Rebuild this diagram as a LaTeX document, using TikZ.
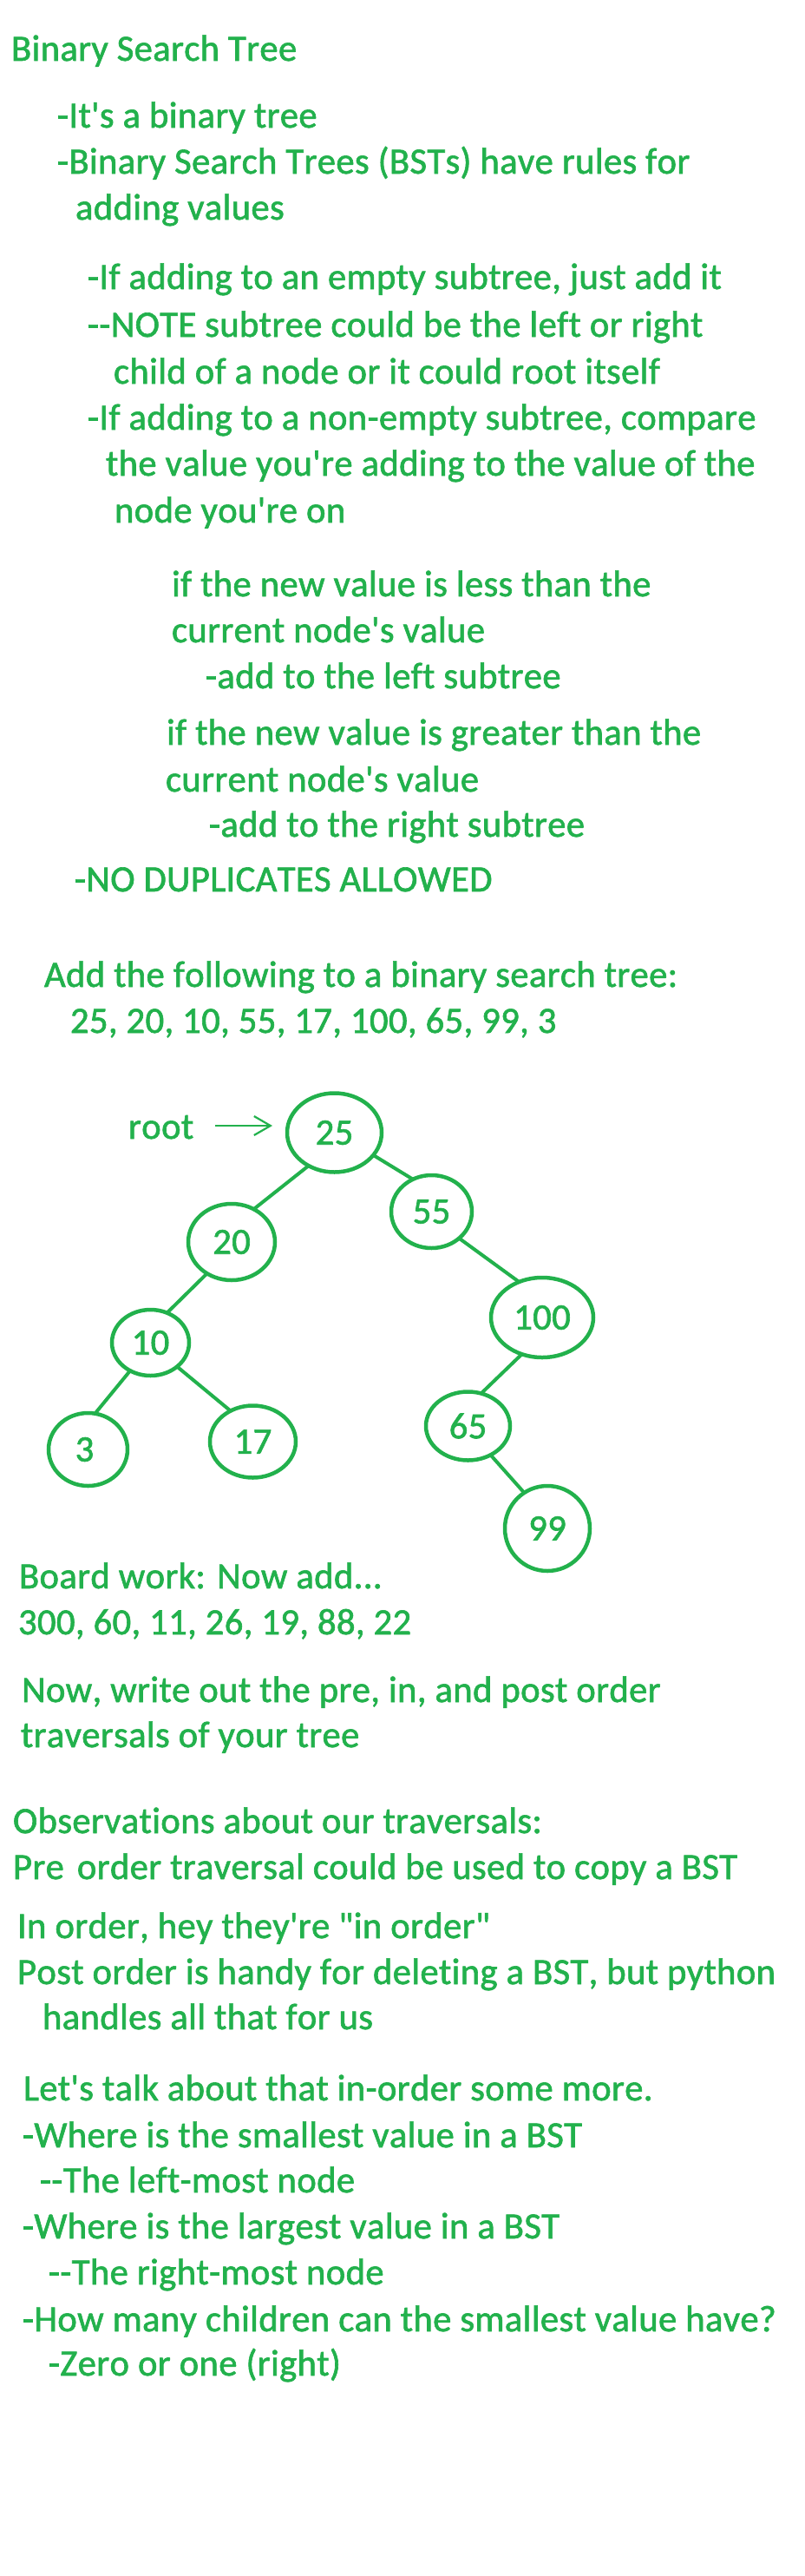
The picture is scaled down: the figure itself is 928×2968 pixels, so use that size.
\documentclass[tikz,border=0pt]{standalone}
\usepackage{fontspec}
\setmainfont{Carlito}[Ligatures={TeXOff,NoCommon},Kerning=Off,LetterSpace=0.8,FakeBold=1.5]
\usetikzlibrary{shapes.geometric,arrows.meta}
\definecolor{bstgreen}{HTML}{22B14C}
\newcommand\bstfnt{\fontsize{42.67}{52}\selectfont}
\tikzset{
  txt/.style={anchor=base west, inner sep=0pt, outer sep=0pt, text=bstgreen, font=\bstfnt},
  bnode/.style={ellipse, draw=bstgreen, line width=4.5pt, inner sep=0pt, outer sep=0pt, text=bstgreen, font=\bstfnt},
  bedge/.style={draw=bstgreen, line width=4pt},
  rootarrow/.style={draw=bstgreen, line width=2.2pt, -{Straight Barb[length=19pt,width=22pt,line width=2.2pt]}}
}
\begin{document}
\begin{tikzpicture}[x=1pt,y=-1pt]
\fill[white] (0,0) rectangle (928,2968);
\useasboundingbox (0,0) rectangle (928,2968);
% text block 1
\node[txt] (t1)  at (13,70)   {Binary Search Tree};
\node[txt] (t2)  at (66,147)  {-It's a binary tree};
\node[txt] (t3)  at (66,200)  {-Binary Search Trees (BSTs) have rules for};
\node[txt] (t4)  at (87,253)  {adding values};
\node[txt] (t5)  at (101,333) {-If adding to an empty subtree, just add it};
\node[txt] (t6)  at (101,388) {--NOTE subtree could be the left or right};
\node[txt] (t7)  at (131,442) {child of a node or it could root itself};
\node[txt] (t8)  at (101,495) {-If adding to a non-empty subtree, compare};
\node[txt] (t9)  at (122,548) {the value you're adding to the value of the};
\node[txt] (t10) at (132,602) {node you're on};
\node[txt] (t11) at (198,687) {if the new value is less than the};
\node[txt] (t12) at (198,740) {current node's value};
\node[txt] (t13) at (237,793) {-add to the left subtree};
\node[txt] (t14) at (192,858) {if the new value is greater than the};
\node[txt] (t15) at (191,912) {current node's value};
\node[txt] (t16) at (241,964) {-add to the right subtree};
\node[txt] (t17) at (86,1027) {-NO DUPLICATES ALLOWED};
\node[txt] (t18) at (51,1137) {Add the following to a binary search tree:};
\node[txt] (t19) at (81,1190) {25, 20, 10, 55, 17, 100, 65, 99, 3};
% tree
\node[txt] (rootlbl) at (148,1312) {root};
\coordinate (arrS) at (248,1297);
\coordinate (arrE) at (314,1297);
\draw[rootarrow] (arrS) -- (arrE);
\node[bnode, minimum width=109pt, minimum height=91pt] (n25)  at (385.5,1305) {25};
\node[bnode, minimum width=100pt, minimum height=88pt] (n20)  at (267,1431)   {20};
\node[bnode, minimum width=89pt,  minimum height=76pt] (n10)  at (173.5,1547) {10};
\node[bnode, minimum width=91pt,  minimum height=84pt] (n3)   at (101.5,1670) {\kern-8pt3};
\node[bnode, minimum width=99pt,  minimum height=83pt] (n17)  at (291.5,1661) {17};
\node[bnode, minimum width=93pt,  minimum height=84pt] (n55)  at (497.5,1396) {55};
\node[bnode, minimum width=118pt, minimum height=92pt] (n100) at (625,1518)   {100};
\node[bnode, minimum width=97pt,  minimum height=79pt] (n65)  at (539.5,1643) {65};
\node[bnode, minimum width=98pt,  minimum height=98pt] (n99)  at (631,1761)   {99};
\draw[bedge] (n25.-128) -- (n20.56);
\draw[bedge] (n25.-30)  -- (n55.120);
\draw[bedge] (n20.-128) -- (n10.61);
\draw[bedge] (n10.-126) -- (n3.79);
\draw[bedge] (n10.-42)  -- (n17.126);
\draw[bedge] (n55.-44)  -- (n100.123);
\draw[bedge] (n100.-119) -- (n65.68);
\draw[bedge] (n65.-52)  -- (n99.123);
% text block 2
\node[txt] (t20) at (22,1830)  {Board work: Now add...};
\node[txt] (t21) at (21,1883)  {300, 60, 11, 26, 19, 88, 22};
\node[txt] (t22) at (25,1961)  {Now, write out the pre, in, and post order};
\node[txt] (t23) at (24,2013)  {traversals of your tree};
\node[txt] (t24) at (15,2112)  {Observations about our traversals:};
\node[txt] (t25) at (15,2165)  {Pre\hspace{5pt} order traversal could be used to copy a BST};
\node[txt] (t26) at (20,2233)  {In order, hey they're "in order"};
\node[txt] (t27) at (20,2286)  {Post order is handy for deleting a BST, but python};
\node[txt] (t28) at (49,2338)  {handles all that for us};
\node[txt] (t29) at (27,2420)  {Let's talk about that in-order some more.};
\node[txt] (t30) at (26,2474)  {-Where is the smallest value in a BST};
\node[txt] (t31) at (46,2526)  {--The left-most node};
\node[txt] (t32) at (26,2579)  {-Where is the largest value in a BST};
\node[txt] (t33) at (56,2632)  {--The right-most node};
\node[txt] (t34) at (26,2686)  {-How many children can the smallest value have?};
\node[txt] (t35) at (56,2737)  {-Zero or one (right)};
\end{tikzpicture}
\end{document}
